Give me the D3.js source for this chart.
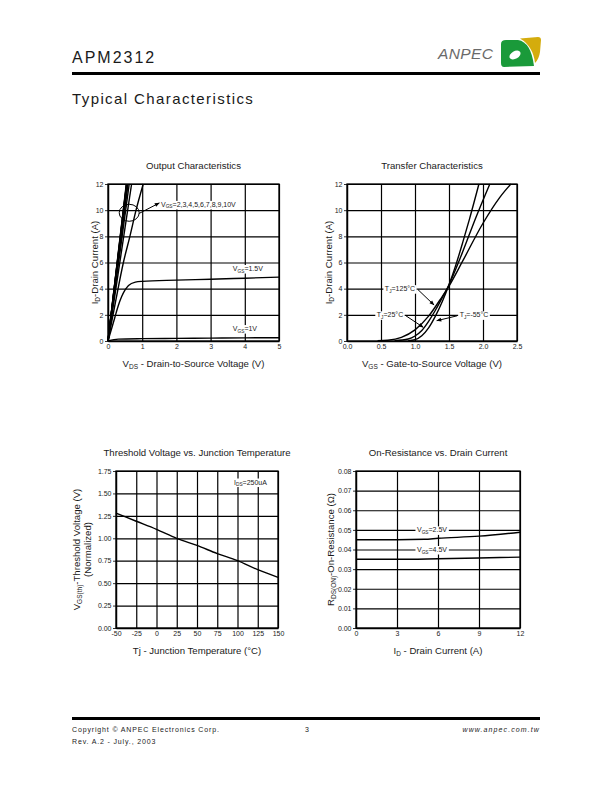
<!DOCTYPE html>
<meta charset="utf-8">
<style>
body { margin: 0; background: #fff; }
svg { font-family: "Liberation Sans", Arial, sans-serif; }
svg text { fill: #1a1a1a; }
.grid line { stroke: #000; stroke-width: 1.2px; }
.grid path { display: none; }
.axis path { stroke: #000; stroke-width: 1.3px; }
.axis line { stroke: #000; stroke-width: 0.8px; }
.axis text { font-size: 7px; fill: #222; }
.curve { fill: none; stroke: #000; stroke-width: 1.4px; }
</style>
<svg width="612" height="792"></svg>
<script src="https://cdn.jsdelivr.net/npm/d3@7/dist/d3.min.js"></script>
<script>

// ---- data ----
// Output characteristics, ID (A) vs VDS (V)
var outTicksX = [0, 1, 2, 3, 4, 5],
    outTicksY = [0, 2, 4, 6, 8, 10, 12];
var outVgs1  = [[0, 0], [0.3, 0.14], [1, 0.18], [2, 0.2], [3, 0.22], [4, 0.24], [5, 0.25]];
var outVgs15 = [[0, 0], [0.1, 0.9], [0.2, 1.8], [0.3, 2.7], [0.4, 3.4], [0.5, 3.9], [0.6, 4.25],
                [0.8, 4.5], [1, 4.56], [2, 4.65], [3, 4.72], [4, 4.8], [5, 4.88]];
var outVgs2  = [[0, 0], [0.22, 3], [0.45, 6], [0.64, 8], [0.82, 10], [1.03, 12]];
var outVgsHigh = [0.69, 0.62, 0.585, 0.57, 0.56, 0.55, 0.545, 0.54, 0.535]; // VDS where ID hits 12A, VGS=2.5..10

// Transfer characteristics, ID (A) vs VGS (V)
var trTicksX = [0, 0.5, 1, 1.5, 2, 2.5],
    trTicksY = [0, 2, 4, 6, 8, 10, 12];
var tj125 = [[0.45, 0.02], [0.6, 0.06], [0.8, 0.28], [1.0, 0.85], [1.2, 1.9], [1.4, 3.4], [1.5, 4.2],
             [1.7, 6.1], [2.0, 9.0], [2.25, 11.0], [2.41, 12]];
var tj25  = [[0.7, 0.02], [0.9, 0.15], [1.0, 0.38], [1.1, 0.8], [1.2, 1.5], [1.3, 2.35], [1.4, 3.3],
             [1.5, 4.3], [1.7, 6.8], [1.9, 9.5], [2.1, 12]];
var tjm55 = [[0.9, 0.02], [1.0, 0.1], [1.1, 0.4], [1.2, 1.0], [1.3, 1.9], [1.4, 3.0], [1.5, 4.3],
             [1.6, 5.8], [1.7, 7.5], [1.8, 9.3], [1.94, 12]];

// Threshold voltage (normalized) vs junction temperature
var thTicksX = [-50, -25, 0, 25, 50, 75, 100, 125, 150],
    thTicksY = [0, 0.25, 0.5, 0.75, 1.0, 1.25, 1.5, 1.75];
var vth = [[-50, 1.28], [-25, 1.19], [0, 1.10], [25, 1.00], [50, 0.92], [75, 0.83],
           [100, 0.75], [125, 0.65], [150, 0.565]];

// On-resistance vs drain current
var rdTicksX = [0, 3, 6, 9, 12],
    rdTicksY = [0, 0.01, 0.02, 0.03, 0.04, 0.05, 0.06, 0.07, 0.08];
var rds25 = [[0, 0.045], [3, 0.045], [5, 0.0452], [6, 0.0457], [9, 0.0468], [12, 0.0488]];
var rds45 = [[0, 0.035], [3, 0.035], [6, 0.0353], [9, 0.0357], [12, 0.0361]];

var svg = d3.select("svg");

svg.append("defs").append("marker")
    .attr("id", "arrow").attr("viewBox", "0 0 10 10")
    .attr("refX", 9).attr("refY", 5)
    .attr("markerWidth", 6).attr("markerHeight", 5).attr("orient", "auto")
  .append("path").attr("d", "M0,1 L10,5 L0,9 Z").attr("fill", "#000");

// plain hyphen for negatives, like the datasheet
var intFmt = function(d) { return String(d); };

// text with subscripts: parts = [["I"], ["D", true], ["-Drain"]]
function rich(sel, parts, size) {
  sel.style("font-size", size + "px");
  var shift = 0;
  parts.forEach(function(p) {
    var t = sel.append("tspan").text(p[0]);
    if (p[1]) {
      t.style("font-size", (size * 0.68) + "px").attr("dy", size * 0.22);
      shift = size * 0.22;
    } else if (shift) {
      t.attr("dy", -shift);
      shift = 0;
    }
  });
  return sel;
}

function boxed(g, x, y, parts, size, anchor) {
  var t = g.append("text").attr("x", x).attr("y", y)
      .attr("text-anchor", anchor || "start");
  rich(t, parts, size);
  var b = t.node().getBBox();
  g.insert("rect", function() { return t.node(); })
      .attr("x", b.x - 1.5).attr("y", b.y).attr("width", b.width + 3).attr("height", b.height)
      .attr("fill", "#fff");
  return t;
}

function chart(o) {
  var x = d3.scaleLinear().domain(o.xd).range([o.left, o.right]),
      y = d3.scaleLinear().domain(o.yd).range([o.bottom, o.top]),
      w = o.right - o.left, h = o.bottom - o.top;
  var g = svg.append("g");

  g.append("g").attr("class", "grid")
      .attr("transform", "translate(0," + o.bottom + ")")
      .call(d3.axisBottom(x).tickValues(o.xt).tickSize(-h).tickFormat(""));
  g.append("g").attr("class", "grid")
      .attr("transform", "translate(" + o.left + ",0)")
      .call(d3.axisLeft(y).tickValues(o.yt).tickSize(-w).tickFormat(""));

  g.append("rect").attr("x", o.left).attr("y", o.top).attr("width", w).attr("height", h)
      .attr("fill", "none").attr("stroke", "#000").attr("stroke-width", 1.3);

  g.append("g").attr("class", "axis")
      .attr("transform", "translate(0," + o.bottom + ")")
      .call(d3.axisBottom(x).tickValues(o.xt).tickSize(0).tickSizeOuter(0).tickPadding(3).tickFormat(o.xf));
  g.append("g").attr("class", "axis")
      .attr("transform", "translate(" + o.left + ",0)")
      .call(d3.axisLeft(y).tickValues(o.yt).tickSize(3).tickSizeOuter(0).tickPadding(1.5).tickFormat(o.yf));

  g.append("text").attr("x", (o.left + o.right) / 2).attr("y", o.top - 15)
      .attr("text-anchor", "middle").style("font-size", "9.6px").text(o.title);

  rich(g.append("text").attr("x", (o.left + o.right) / 2).attr("y", o.bottom + 26)
      .attr("text-anchor", "middle"), o.xl, 9.6);

  o.yl.forEach(function(parts, i) {
    var yx = o.ylx + i * 11;
    rich(g.append("text")
        .attr("transform", "translate(" + yx + "," + ((o.top + o.bottom) / 2) + ") rotate(-90)")
        .attr("text-anchor", "middle"), parts, 9.6);
  });

  return {g: g, x: x, y: y};
}

var line = function(c) {
  return d3.line().curve(d3.curveMonotoneX)
      .x(function(d) { return c.x(d[0]); })
      .y(function(d) { return c.y(d[1]); });
};

function arrow(g, x1, y1, x2, y2) {
  g.append("line").attr("x1", x1).attr("y1", y1).attr("x2", x2).attr("y2", y2)
      .attr("stroke", "#000").attr("stroke-width", 1).attr("marker-end", "url(#arrow)");
}

// ---- Output Characteristics ----
var c1 = chart({left: 108, right: 279, top: 184, bottom: 341, xd: [0, 5], yd: [0, 12],
  xt: outTicksX, yt: outTicksY, xf: intFmt, yf: intFmt,
  title: "Output Characteristics",
  xl: [["V"], ["DS", true], [" - Drain-to-Source Voltage (V)"]],
  yl: [[["I"], ["D", true], ["-Drain Current (A)"]]], ylx: 98});

var l1 = line(c1);
[outVgs1, outVgs15, outVgs2].forEach(function(s) {
  c1.g.append("path").attr("class", "curve").attr("d", l1(s));
});
c1.g.selectAll(".high").data(outVgsHigh).enter().append("path")
    .attr("class", "curve high")
    .attr("d", function(v) { return d3.line()([[c1.x(0), c1.y(0)], [c1.x(v), c1.y(12)]]); });

c1.g.append("ellipse").attr("cx", c1.x(0.62)).attr("cy", c1.y(9.8)).attr("rx", 10).attr("ry", 8.5)
    .attr("fill", "none").attr("stroke", "#000").attr("stroke-width", 1);
boxed(c1.g, c1.x(1.55), c1.y(10.25), [["V"], ["GS", true], ["=2,3,4,5,6,7,8,9,10V"]], 7);
arrow(c1.g, c1.x(0.91), c1.y(9.75), c1.x(1.5), c1.y(10.55));
boxed(c1.g, c1.x(3.65), c1.y(5.35), [["V"], ["GS", true], ["=1.5V"]], 7);
boxed(c1.g, c1.x(3.65), c1.y(0.76), [["V"], ["GS", true], ["=1V"]], 7);

// ---- Transfer Characteristics ----
var c2 = chart({left: 347, right: 517, top: 184, bottom: 341, xd: [0, 2.5], yd: [0, 12],
  xt: trTicksX, yt: trTicksY, xf: d3.format(".1f"), yf: intFmt,
  title: "Transfer Characteristics",
  xl: [["V"], ["GS", true], [" - Gate-to-Source Voltage (V)"]],
  yl: [[["I"], ["D", true], ["-Drain Current (A)"]]], ylx: 332});

var l2 = line(c2);
[tj125, tj25, tjm55].forEach(function(s) {
  c2.g.append("path").attr("class", "curve").attr("d", l2(s));
});
boxed(c2.g, 400, c2.y(4) + 2.5, [["T"], ["J", true], ["=125°C"]], 7, "middle");
boxed(c2.g, 390, c2.y(2) + 2.5, [["T"], ["J", true], ["=25°C"]], 7, "middle");
boxed(c2.g, 474, c2.y(2) + 2.5, [["T"], ["J", true], ["=-55°C"]], 7, "middle");
arrow(c2.g, 418, c2.y(4) + 1, c2.x(1.28), c2.y(2.75));
arrow(c2.g, 406, c2.y(2) + 1, c2.x(1.12), c2.y(1.05));
arrow(c2.g, 457, c2.y(2) + 1, c2.x(1.32), c2.y(1.55));

// ---- Threshold Voltage vs. Junction Temperature ----
var c3 = chart({left: 116, right: 278, top: 471, bottom: 628, xd: [-50, 150], yd: [0, 1.75],
  xt: thTicksX, yt: thTicksY, xf: intFmt, yf: d3.format(".2f"),
  title: "Threshold Voltage vs. Junction Temperature",
  xl: [["Tj - Junction Temperature (°C)"]],
  yl: [[["V"], ["GS(th)", true], ["-Threshold Voltage (V)"]], [["(Normalized)"]]], ylx: 80});

c3.g.append("path").attr("class", "curve").attr("d", line(c3)(vth));
boxed(c3.g, 234, 484.5, [["I"], ["DS", true], ["=250uA"]], 7);

// ---- On-Resistance vs. Drain Current ----
var c4 = chart({left: 356, right: 520, top: 471, bottom: 628, xd: [0, 12], yd: [0, 0.08],
  xt: rdTicksX, yt: rdTicksY, xf: intFmt, yf: d3.format(".2f"),
  title: "On-Resistance vs. Drain Current",
  xl: [["I"], ["D", true], [" - Drain Current (A)"]],
  yl: [[["R"], ["DS(ON)", true], ["-On-Resistance (Ω)"]]], ylx: 334});

var l4 = line(c4);
[rds25, rds45].forEach(function(s) {
  c4.g.append("path").attr("class", "curve").attr("d", l4(s));
});
boxed(c4.g, 432, c4.y(0.05) + 2.5, [["V"], ["GS", true], ["=2.5V"]], 7, "middle");
boxed(c4.g, 432, c4.y(0.04) + 2.5, [["V"], ["GS", true], ["=4.5V"]], 7, "middle");

// ---- page header / footer ----
svg.append("text").attr("x", 72).attr("y", 63).style("font-size", "16px")
    .style("letter-spacing", "2px").text("APM2312");
svg.append("rect").attr("x", 72).attr("y", 72).attr("width", 468).attr("height", 3).attr("fill", "#000");
svg.append("text").attr("x", 72).attr("y", 104).style("font-size", "15px")
    .style("letter-spacing", "1.4px").text("Typical Characteristics");

var logo = svg.append("g");
logo.append("text").attr("x", 438).attr("y", 59).style("font-size", "15.5px").style("font-style", "italic")
    .style("letter-spacing", "0.4px").style("fill", "#6a6a6a").text("ANPEC");
logo.append("path").attr("fill", "#d4ac0d")
    .attr("d", "M520,38.5 L538,37 Q541,37 541,40 L540,52 Q539,59 535,63 Q533,46 520,38.5 Z");
logo.append("path").attr("fill", "#1a9a3a")
    .attr("d", "M501,44 Q501,40 506,40 L518,40 Q531,42 534,66 L504,67 Q501,67 501,63 Z");
logo.append("ellipse").attr("cx", 515).attr("cy", 55).attr("rx", 6).attr("ry", 3.8)
    .attr("transform", "rotate(-30,515,55)").attr("fill", "#fff");

svg.append("rect").attr("x", 72).attr("y", 717).attr("width", 468).attr("height", 3).attr("fill", "#000");
svg.append("text").attr("x", 72).attr("y", 731.5).style("font-size", "7px").style("letter-spacing", "0.85px")
    .text("Copyright © ANPEC Electronics Corp.");
svg.append("text").attr("x", 305).attr("y", 731.5).style("font-size", "7px").text("3");
svg.append("text").attr("x", 540).attr("y", 731.5).attr("text-anchor", "end").style("font-size", "7px")
    .style("letter-spacing", "1.1px").style("font-style", "italic").text("www.anpec.com.tw");
svg.append("text").attr("x", 72).attr("y", 743.5).style("font-size", "7px").style("letter-spacing", "0.85px")
    .text("Rev. A.2 - July., 2003");

</script>
